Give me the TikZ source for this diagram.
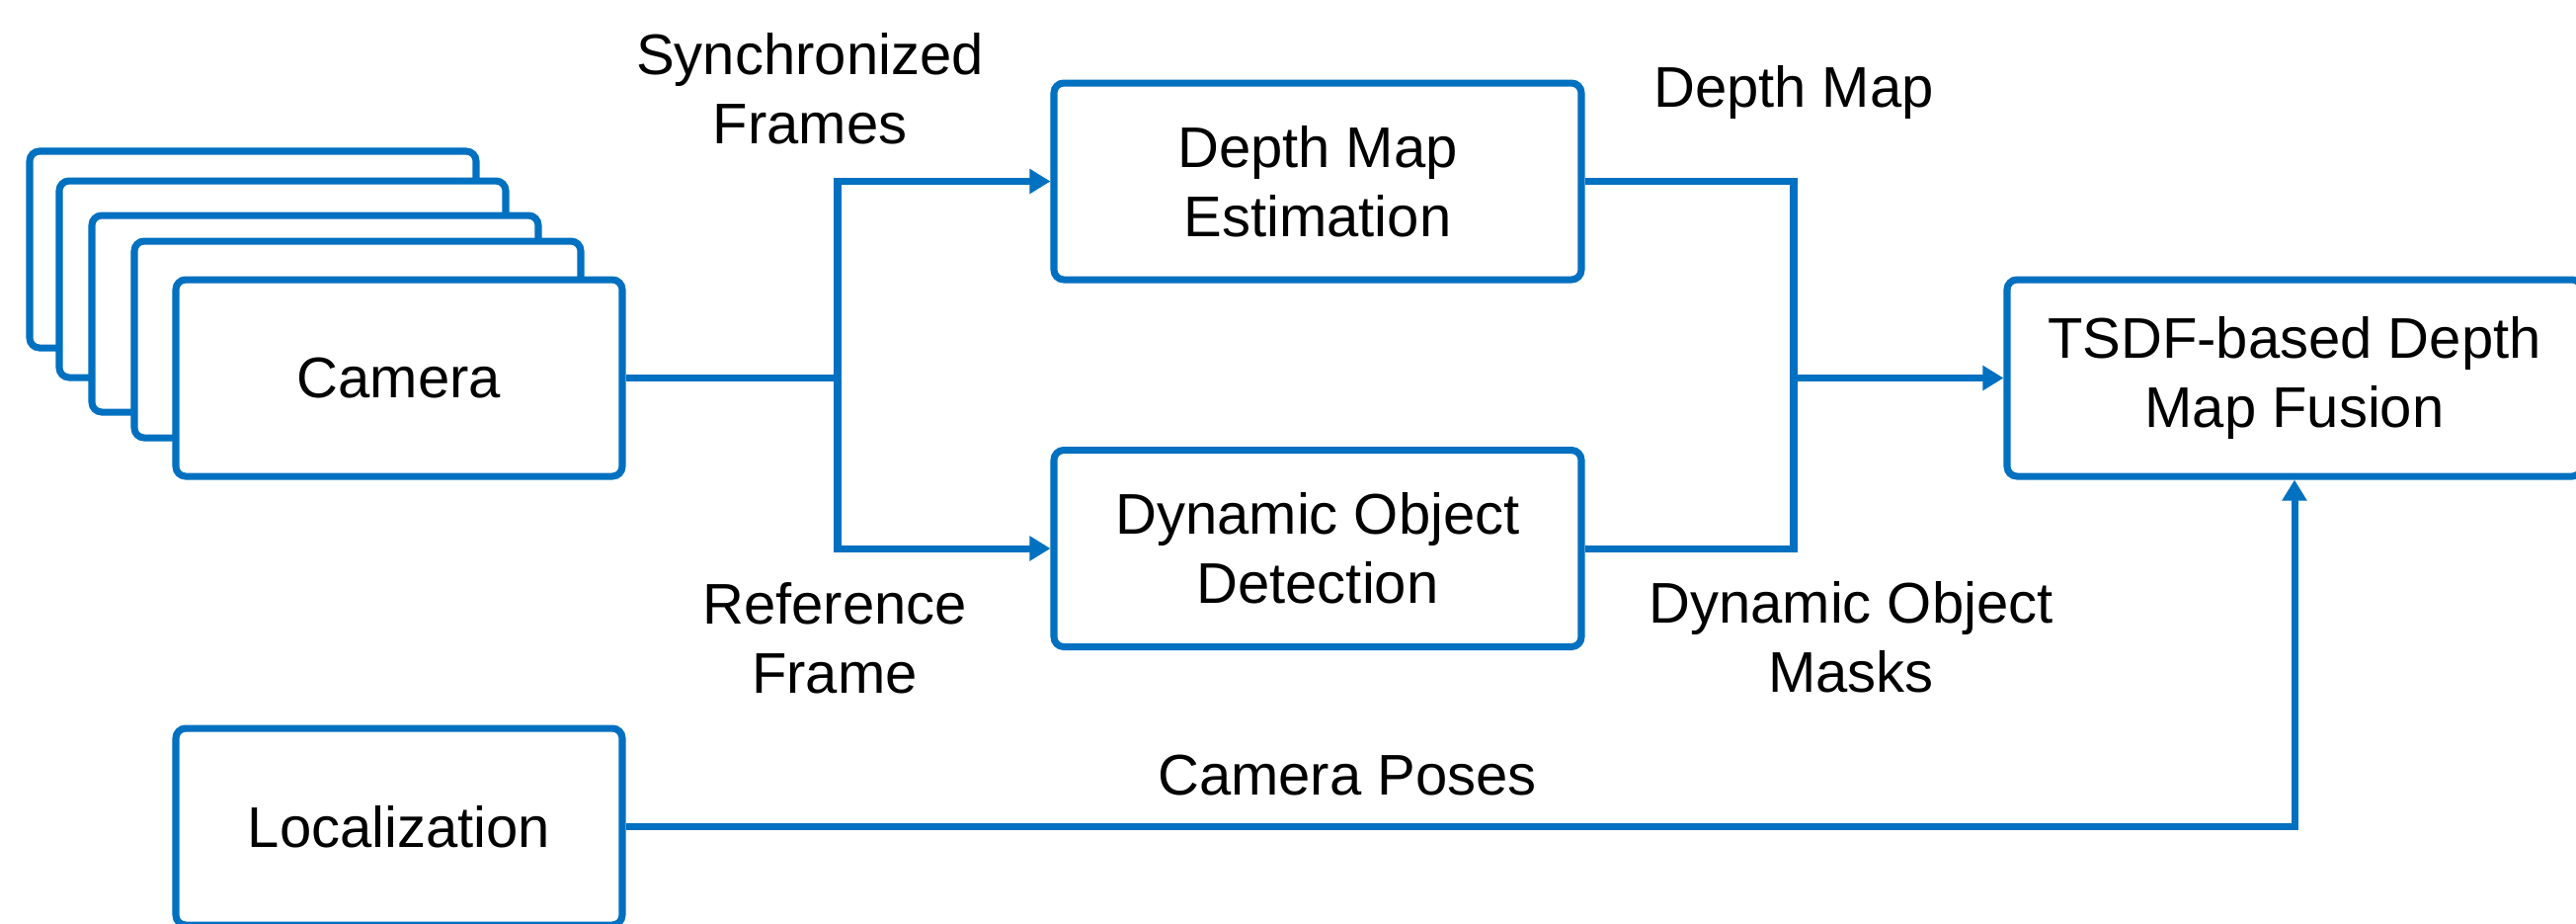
\documentclass[tikz,border=0pt]{standalone}
\usepackage{fontspec}
\setmainfont{Liberation Sans}
\usetikzlibrary{arrows.meta}
\definecolor{myblue}{RGB}{0,112,192}
\tikzset{
  box/.style={draw=myblue, line width=2pt, fill=white, rounded corners=0.1cm,
    align=center, inner sep=0pt, font=\fontsize{16.5}{20}\selectfont},
  conn/.style={draw=myblue, line width=2pt},
  arr/.style={conn, -{Triangle[length=0.21cm,width=0.24cm]}},
  lbl/.style={align=center, inner sep=0pt, font=\fontsize{16.5}{20}\selectfont}
}
\begin{document}
\begin{tikzpicture}
\clip (0,0) rectangle (26.08,-9.34);
\useasboundingbox (0,0) rectangle (26.08,-9.34);
% camera stack
\node[box, minimum width=4.52cm, minimum height=1.99cm] (c1) at (2.56,-2.525) {};
\node[box, minimum width=4.52cm, minimum height=1.99cm] (c2) at (2.86,-2.825) {};
\node[box, minimum width=4.52cm, minimum height=1.99cm] (c3) at (3.19,-3.175) {};
\node[box, minimum width=4.52cm, minimum height=1.99cm] (c4) at (3.62,-3.435) {};
\node[box, minimum width=4.52cm, minimum height=1.99cm] (cam) at (4.04,-3.825) {Camera};
% processing boxes
\node[box, minimum width=5.34cm, minimum height=1.99cm] (depth) at (13.34,-1.835) {Depth Map\\Estimation};
\node[box, minimum width=5.34cm, minimum height=1.99cm] (dyn) at (13.34,-5.55) {Dynamic Object\\Detection};
\node[box, minimum width=5.82cm, minimum height=1.99cm] (tsdf) at (23.23,-3.825) {TSDF-based Depth\\Map Fusion};
\node[box, minimum width=4.52cm, minimum height=1.99cm] (loc) at (4.04,-8.365) {Localization};
% junctions
\coordinate (jL) at (8.48,-3.825);
\coordinate (jR) at (18.16,-3.825);
% connectors
\draw[conn] (cam.east) -- (jL);
\draw[arr] (jL) |- (depth.west);
\draw[arr] (jL) |- (dyn.west);
\draw[conn] (depth.east) -| (jR);
\draw[conn] (dyn.east) -| (jR);
\draw[arr] (jR) -- (tsdf.west);
\draw[arr] (loc.east) -| (tsdf.south);
% labels
\node[lbl] (l1) at (8.20,-0.90) {Synchronized\\Frames};
\node[lbl] (l2) at (8.45,-6.46) {Reference\\Frame};
\node[lbl] (l3) at (18.16,-0.93) {Depth Map};
\node[lbl] (l4) at (18.74,-6.45) {Dynamic Object\\Masks};
\node[lbl] (l5) at (13.64,-7.85) {Camera Poses};
\end{tikzpicture}
\end{document}
